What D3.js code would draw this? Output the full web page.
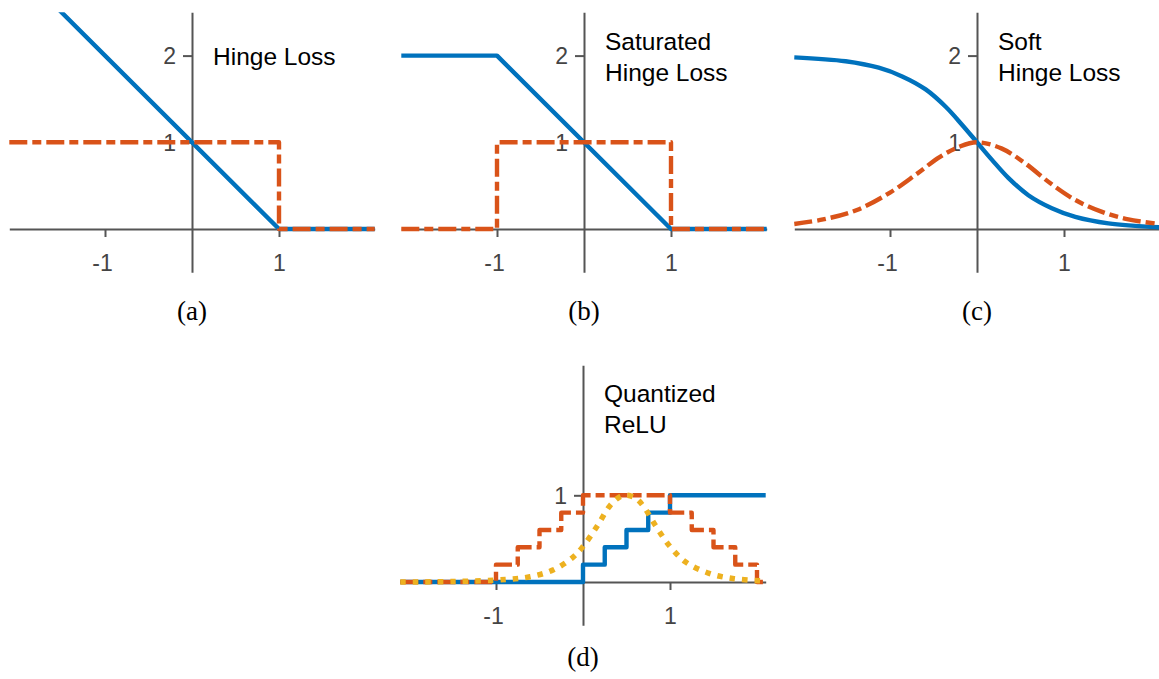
<!DOCTYPE html>
<html>
<head>
<meta charset="utf-8">
<script src="https://cdn.jsdelivr.net/npm/d3@7"></script>
<style>
  body { margin: 0; background: white; }
</style>
</head>
<body>
<div id="paper"></div>
<script>
// values, in data units
const xTicks = [-1, 1];
const yTicksTop = [1, 2];
const yTicksBottom = [1];

const hingeLoss = [[-2.1, 3.1], [1, 0], [2.1, 0]];
const hingeGrad = [[-2.1, 1], [1, 1], [1, 0], [2.1, 0]];

const satLoss = [[-2.1, 2], [-1, 2], [1, 0], [2.1, 0]];
const satGrad = [[-2.1, 0], [-1, 0], [-1, 1], [1, 1], [1, 0], [2.1, 0]];

const softLoss = [[-2.1, 1.98], [-1.51, 1.935], [-1.13, 1.86], [-0.86, 1.76], [-0.59, 1.61],
  [-0.36, 1.41], [-0.17, 1.2], [0, 1], [0.17, 0.8], [0.36, 0.59], [0.59, 0.39],
  [0.86, 0.24], [1.13, 0.14], [1.51, 0.065], [2.1, 0.02]];
const softGrad = [[-2.1, 0.058], [-1.77, 0.11], [-1.38, 0.22], [-1.0, 0.42], [-0.7, 0.63],
  [-0.43, 0.83], [-0.2, 0.95], [0, 1.0], [0.28, 0.93], [0.55, 0.76], [0.84, 0.53],
  [1.13, 0.335], [1.43, 0.2], [1.74, 0.11], [2.1, 0.058]];

// step series: value holds from x until the next x
const qrelu = [[-2.1, 0], [0, 0.2], [0.25, 0.4], [0.5, 0.6], [0.75, 0.8], [1, 1], [2.1, 1]];
const qreluGrad = [[-2.1, 0], [-1, 0.2], [-0.75, 0.4], [-0.5, 0.6], [-0.25, 0.8], [0, 1],
  [1, 0.8], [1.25, 0.6], [1.5, 0.4], [1.75, 0.2], [2, 0], [2.1, 0]];
const qreluSmooth = [[-2.1, 0], [-1.5, 0.005], [-0.89, 0.03], [-0.61, 0.06], [-0.34, 0.14],
  [-0.11, 0.29], [0, 0.41], [0.16, 0.64], [0.31, 0.88], [0.42, 0.98], [0.5, 1.0],
  [0.6, 0.97], [0.69, 0.88], [0.84, 0.64], [1, 0.41], [1.18, 0.23], [1.45, 0.1],
  [1.72, 0.04], [2.02, 0.015], [2.1, 0.012]];

const blue = '#0072BD', orange = '#D95319', yellow = '#EDB120';
const axisColor = '#555';

const svg = d3.select('#paper')
  .append('svg')
  .attr('width', 1159)
  .attr('height', 679);

const unitX = 87, unitY = 86.7;

function drawPanel(p, i) {
  const x = d3.scaleLinear().domain([-2.1, 2.1])
    .range([p.ox - 2.1 * unitX, p.ox + 2.1 * unitX]);
  const y = d3.scaleLinear().domain([-0.5, 2.5])
    .range([p.oy + 0.5 * unitY, p.oy - 2.5 * unitY]);

  const g = svg.append('g').attr('class', 'panel');

  g.append('clipPath').attr('id', 'clip' + i)
    .append('rect')
    .attr('x', x(-2.1) - 3).attr('y', y(2.5))
    .attr('width', x(2.1) - x(-2.1) + 6)
    .attr('height', y(-0.5) - y(2.5));

  const xAxis = g.append('g')
    .attr('transform', 'translate(0,' + y(0) + ')')
    .call(d3.axisBottom(x).tickValues(xTicks).tickSize(8).tickSizeOuter(0).tickPadding(18)
      .tickFormat(d => String(d)));
  const yAxis = g.append('g')
    .attr('transform', 'translate(' + x(0) + ',0)')
    .call(d3.axisLeft(y).tickValues(p.yTicks).tickSize(9).tickSizeOuter(0).tickPadding(7)
      .tickFormat(d => String(d)));

  [xAxis, yAxis].forEach(a => {
    a.select('.domain').attr('stroke', axisColor).attr('stroke-width', 2);
    a.selectAll('.tick line').attr('stroke', axisColor).attr('stroke-width', 2);
    a.selectAll('.tick text')
      .attr('fill', '#444')
      .attr('font-family', 'Liberation Sans, Arial, sans-serif')
      .attr('font-size', '23px');
  });
  xAxis.selectAll('.tick text').attr('dx', d => d < 0 ? -3 : 0);
  yAxis.selectAll('.tick text').attr('dy', '0.36em');

  const lines = g.append('g').attr('clip-path', 'url(#clip' + i + ')');
  p.series.forEach(s => {
    const line = d3.line().x(d => x(d[0])).y(d => y(d[1])).curve(s.curve || d3.curveLinear);
    lines.append('path')
      .attr('d', line(s.data))
      .attr('fill', 'none')
      .attr('stroke', s.color)
      .attr('stroke-width', s.width)
      .attr('stroke-dasharray', s.dash || null)
      .attr('stroke-linejoin', 'round');
  });

  g.selectAll('.title')
    .data(p.title)
    .join('text')
    .attr('class', 'title')
    .attr('x', p.ox + 21)
    .attr('y', (d, k) => p.titleY + k * 30.5)
    .attr('font-family', 'Liberation Sans, Arial, sans-serif')
    .attr('font-size', '24.5px')
    .attr('fill', 'black')
    .text(d => d);

  g.append('text')
    .attr('x', p.ox)
    .attr('y', p.captionY)
    .attr('text-anchor', 'middle')
    .attr('font-family', 'Liberation Serif, Times New Roman, serif')
    .attr('font-size', '27px')
    .attr('fill', 'black')
    .text(p.caption);
}

const dashed = '18,5,9,5';
const dotted = '5.5,7';
const lw = 4.4;

const panels = [
  { ox: 192, oy: 229, yTicks: yTicksTop, title: ['Hinge Loss'], titleY: 65, caption: '(a)', captionY: 320,
    series: [{ data: hingeLoss, color: blue, width: lw },
             { data: hingeGrad, color: orange, width: lw, dash: dashed }] },
  { ox: 584, oy: 229, yTicks: yTicksTop, title: ['Saturated', 'Hinge Loss'], titleY: 50, caption: '(b)', captionY: 320,
    series: [{ data: satLoss, color: blue, width: lw },
             { data: satGrad, color: orange, width: lw, dash: dashed }] },
  { ox: 977, oy: 229, yTicks: yTicksTop, title: ['Soft', 'Hinge Loss'], titleY: 50, caption: '(c)', captionY: 320,
    series: [{ data: softLoss, color: blue, width: lw, curve: d3.curveCatmullRom },
             { data: softGrad, color: orange, width: lw, dash: dashed, curve: d3.curveCatmullRom }] },
  { ox: 583, oy: 582, yTicks: yTicksBottom, title: ['Quantized', 'ReLU'], titleY: 402, caption: '(d)', captionY: 666,
    series: [{ data: qrelu, color: blue, width: lw, curve: d3.curveStepAfter },
             { data: qreluGrad, color: orange, width: lw, dash: dashed, curve: d3.curveStepAfter },
             { data: qreluSmooth, color: yellow, width: 5.5, dash: dotted, curve: d3.curveCatmullRom }] }
];

panels.forEach(drawPanel);
</script>
</body>
</html>
